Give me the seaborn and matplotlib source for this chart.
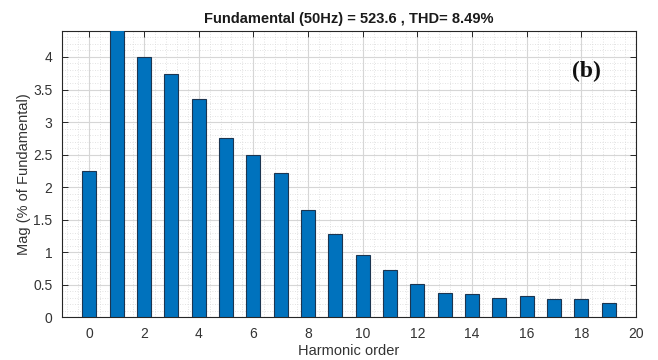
import numpy as np
import pandas as pd
import matplotlib
matplotlib.use("Agg")
import matplotlib.pyplot as plt
from matplotlib.ticker import MultipleLocator
import seaborn as sns

# Harmonic spectrum, magnitudes in % of the fundamental
harmonic_order = list(range(20))
magnitude_pct = [2.24, 100.0, 4.00, 3.74, 3.35, 2.75, 2.50, 2.21, 1.65, 1.28,
                 0.96, 0.72, 0.51, 0.37, 0.35, 0.30, 0.33, 0.27, 0.28, 0.22]
x_ticks = list(range(0, 21, 2))
y_ticks = [0, 0.5, 1, 1.5, 2, 2.5, 3, 3.5, 4]
y_tick_labels = ["0", "0.5", "1", "1.5", "2", "2.5", "3", "3.5", "4"]
title = "Fundamental (50Hz) = 523.6 , THD= 8.49%"

df = pd.DataFrame({"order": harmonic_order, "mag": magnitude_pct})

sns.set_theme(style="white")
plt.rcParams["font.family"] = ["Liberation Sans", "DejaVu Sans"]

fig = plt.figure(figsize=(6.58, 3.6), dpi=100)
ax = fig.add_axes([0.0942, 0.1194, 0.8724, 0.7945])

sns.barplot(data=df, x="order", y="mag", native_scale=True, width=0.52,
            color="#0072BD", saturation=1, edgecolor="#1c3550", linewidth=0.8,
            ax=ax, zorder=3)

ax.set_xlim(-1, 20)
ax.set_ylim(0, 4.4)
ax.set_xticks(x_ticks)
ax.set_xticklabels([str(t) for t in x_ticks])
ax.set_yticks(y_ticks)
ax.set_yticklabels(y_tick_labels)
ax.xaxis.set_minor_locator(MultipleLocator(0.4))
ax.yaxis.set_minor_locator(MultipleLocator(0.1))

ax.grid(which="major", color="#d6d6d6", linewidth=0.8, linestyle="-", zorder=0)
ax.grid(which="minor", color="#d9d9d9", linewidth=0.6, linestyle=(0, (1, 2)), zorder=0)
ax.set_axisbelow(True)

for side in ["left", "right", "top", "bottom"]:
    ax.spines[side].set_visible(True)
    ax.spines[side].set_color("#262626")
    ax.spines[side].set_linewidth(0.8)

ax.tick_params(which="major", direction="in", length=4, width=0.7, color="#262626",
               top=True, right=True, bottom=True, left=True,
               labelsize=10, labelcolor="#333333", pad=7)
ax.tick_params(which="minor", length=0)

ax.set_xlabel("Harmonic order", fontsize=10.5, color="#333333", labelpad=2)
ax.set_ylabel("Mag (% of Fundamental)", fontsize=10.5, color="#333333", labelpad=1)
ax.set_title(title, fontsize=10.5, fontweight="bold", color="#1a1a1a", pad=6)

ax.text(0.914, 0.86, "(b)", transform=ax.transAxes, fontsize=17, fontweight="bold",
        family=["Liberation Serif", "DejaVu Serif"], color="#111111",
        ha="center", va="center")

fig.savefig("out.png", dpi=100, facecolor="white")
